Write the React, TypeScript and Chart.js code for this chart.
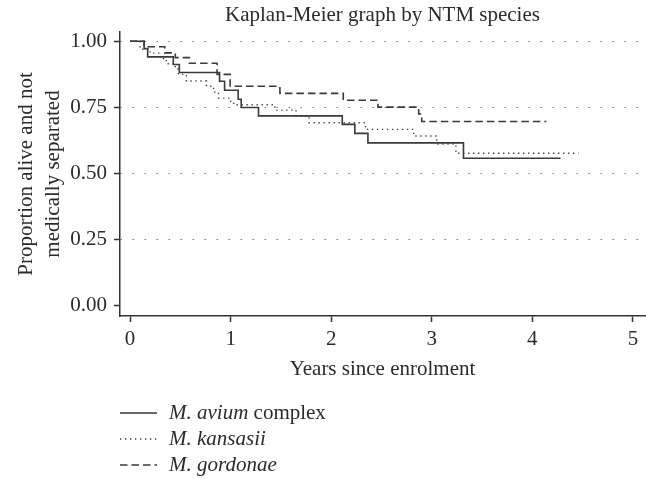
import React, { useEffect, useRef } from 'react';
import { Chart, registerables } from 'chart.js';

Chart.register(...registerables);

// ---- data ----
const xTicks = [0, 1, 2, 3, 4, 5];
const yTicks = [0, 0.25, 0.5, 0.75, 1];

const aviumTimes = [0, 0.14, 0.175, 0.43, 0.49, 0.89, 0.94, 1.075, 1.105, 1.277, 2.11, 2.235, 2.365, 3.315, 4.28];
const aviumSurv = [1, 0.972, 0.941, 0.912, 0.882, 0.849, 0.815, 0.781, 0.75, 0.718, 0.686, 0.652, 0.616, 0.558, 0.558];

const kansasiiTimes = [0, 0.1, 0.2, 0.3, 0.36, 0.45, 0.48, 0.56, 0.76, 0.83, 0.88, 1.0, 1.03, 1.44, 1.65, 1.78, 2.34, 2.82, 3.05, 3.24, 4.46];
const kansasiiSurv = [1, 0.97, 0.955, 0.935, 0.915, 0.895, 0.875, 0.85, 0.83, 0.808, 0.785, 0.77, 0.76, 0.74, 0.717, 0.692, 0.667, 0.642, 0.612, 0.577, 0.577];

const gordonaeTimes = [0, 0.14, 0.345, 0.45, 0.59, 0.865, 0.995, 1.49, 2.12, 2.465, 2.87, 2.9, 4.14];
const gordonaeSurv = [1, 0.979, 0.956, 0.938, 0.917, 0.875, 0.83, 0.803, 0.777, 0.751, 0.725, 0.697, 0.697];

const legendItalic = ['M. avium', 'M. kansasii', 'M. gordonae'];
const legendRest = [' complex', '', ''];

const titleText = 'Kaplan-Meier graph by NTM species';
const xTitle = 'Years since enrolment';
const yTitle = ['Proportion alive and not', 'medically separated'];

const FONT = "'Liberation Serif', 'Times New Roman', serif";
const TEXT = '#2b2b2b';
const INK = '#333333';

const toPoints = (xs: number[], ys: number[]) => xs.map((x, i) => ({ x, y: ys[i] }));

const legendPlugin = {
  id: 'kmLegend',
  afterDraw(chart: any) {
    const ctx = chart.ctx as CanvasRenderingContext2D;
    const area = chart.chartArea;
    const x0 = area.left;
    const x1 = area.left + 37;
    const tx = area.left + 49;
    chart.data.datasets.forEach((ds: any, i: number) => {
      const y = area.bottom + 97 + i * 26;
      ctx.save();
      ctx.strokeStyle = ds.borderColor;
      ctx.lineWidth = ds.borderWidth;
      ctx.setLineDash(ds.borderDash || []);
      ctx.beginPath();
      ctx.moveTo(x0, y);
      ctx.lineTo(x1, y);
      ctx.stroke();
      ctx.setLineDash([]);
      ctx.fillStyle = TEXT;
      ctx.textBaseline = 'middle';
      ctx.textAlign = 'left';
      ctx.font = `italic 21px ${FONT}`;
      ctx.fillText(legendItalic[i], tx, y);
      const w = ctx.measureText(legendItalic[i]).width;
      if (legendRest[i]) {
        ctx.font = `21px ${FONT}`;
        ctx.fillText(legendRest[i], tx + w, y);
      }
      ctx.restore();
    });
  },
};

export default function App() {
  const ref = useRef<HTMLCanvasElement | null>(null);

  useEffect(() => {
    if (!ref.current) return;
    Chart.defaults.font.family = FONT;
    Chart.defaults.color = TEXT;
    const chart = new Chart(ref.current, {
      type: 'line',
      data: {
        datasets: [
          {
            label: 'M. avium complex',
            data: toPoints(aviumTimes, aviumSurv),
            borderColor: '#3a3a3a',
            borderWidth: 1.6,
            borderDash: [],
            stepped: 'before',
            pointRadius: 0,
            fill: false,
          },
          {
            label: 'M. kansasii',
            data: toPoints(kansasiiTimes, kansasiiSurv),
            borderColor: '#3a3a3a',
            borderWidth: 1.4,
            borderDash: [1.3, 3.7],
            stepped: 'before',
            pointRadius: 0,
            fill: false,
          },
          {
            label: 'M. gordonae',
            data: toPoints(gordonaeTimes, gordonaeSurv),
            borderColor: '#3a3a3a',
            borderWidth: 1.6,
            borderDash: [7.5, 4],
            stepped: 'before',
            pointRadius: 0,
            fill: false,
          },
        ],
      },
      options: {
        animation: false,
        responsive: false,
        events: [],
        layout: { padding: { left: 0, right: 1, top: 0, bottom: 88 } },
        plugins: {
          legend: { display: false },
          tooltip: { enabled: false },
          title: {
            display: true,
            text: titleText,
            fullSize: false,
            color: TEXT,
            font: { size: 21, weight: 'normal', family: FONT, lineHeight: 1.2 },
            padding: { top: 2.4, bottom: 4.4 },
          },
        },
        scales: {
          x: {
            type: 'linear',
            min: -0.1,
            max: 5.12,
            afterBuildTicks: (scale: any) => {
              scale.ticks = xTicks.map((v) => ({ value: v }));
            },
            afterFit: (scale: any) => {
              scale.height = 75;
            },
            ticks: {
              font: { size: 21, family: FONT, lineHeight: 1.2 },
              color: TEXT,
              padding: 5,
              maxRotation: 0,
              autoSkip: false,
              callback: (v: any) => String(v),
            },
            grid: {
              drawOnChartArea: false,
              drawTicks: true,
              tickLength: 6,
              tickColor: INK,
              tickWidth: 1.5,
              tickBorderDash: [],
            },
            border: { display: true, color: INK, width: 1.5 },
            title: {
              display: true,
              text: xTitle,
              color: TEXT,
              font: { size: 21, family: FONT, lineHeight: 1.2 },
              padding: { top: 0, bottom: 9 },
            },
          },
          y: {
            type: 'linear',
            min: -0.038,
            max: 1.035,
            afterBuildTicks: (scale: any) => {
              scale.ticks = yTicks.map((v) => ({ value: v }));
            },
            afterFit: (scale: any) => {
              scale.width = 120;
            },
            ticks: {
              font: { size: 21, family: FONT, lineHeight: 1.2 },
              color: TEXT,
              padding: 7,
              autoSkip: false,
              callback: (v: any) => Number(v).toFixed(2),
            },
            grid: {
              drawOnChartArea: true,
              drawTicks: true,
              tickLength: 6,
              lineWidth: 1,
              color: (c: any) => (c.tick && c.tick.value === 0 ? 'rgba(0,0,0,0)' : '#7a7a7a'),
              tickColor: INK,
              tickWidth: 1.5,
              tickBorderDash: [],
            },
            border: { display: true, color: INK, width: 1.5, dash: [1.5, 10.5] },
            title: {
              display: true,
              text: yTitle,
              color: TEXT,
              font: { size: 21, family: FONT, lineHeight: 1.3 },
              padding: { top: 13, bottom: 0 },
            },
          },
        },
      },
      plugins: [legendPlugin],
    } as any);
    return () => chart.destroy();
  }, []);

  return (
    <div style={{ position: 'absolute', left: 0, top: 0, width: 646, height: 479, background: '#fff' }}>
      <canvas ref={ref} width={646} height={479} style={{ display: 'block' }} />
    </div>
  );
}
